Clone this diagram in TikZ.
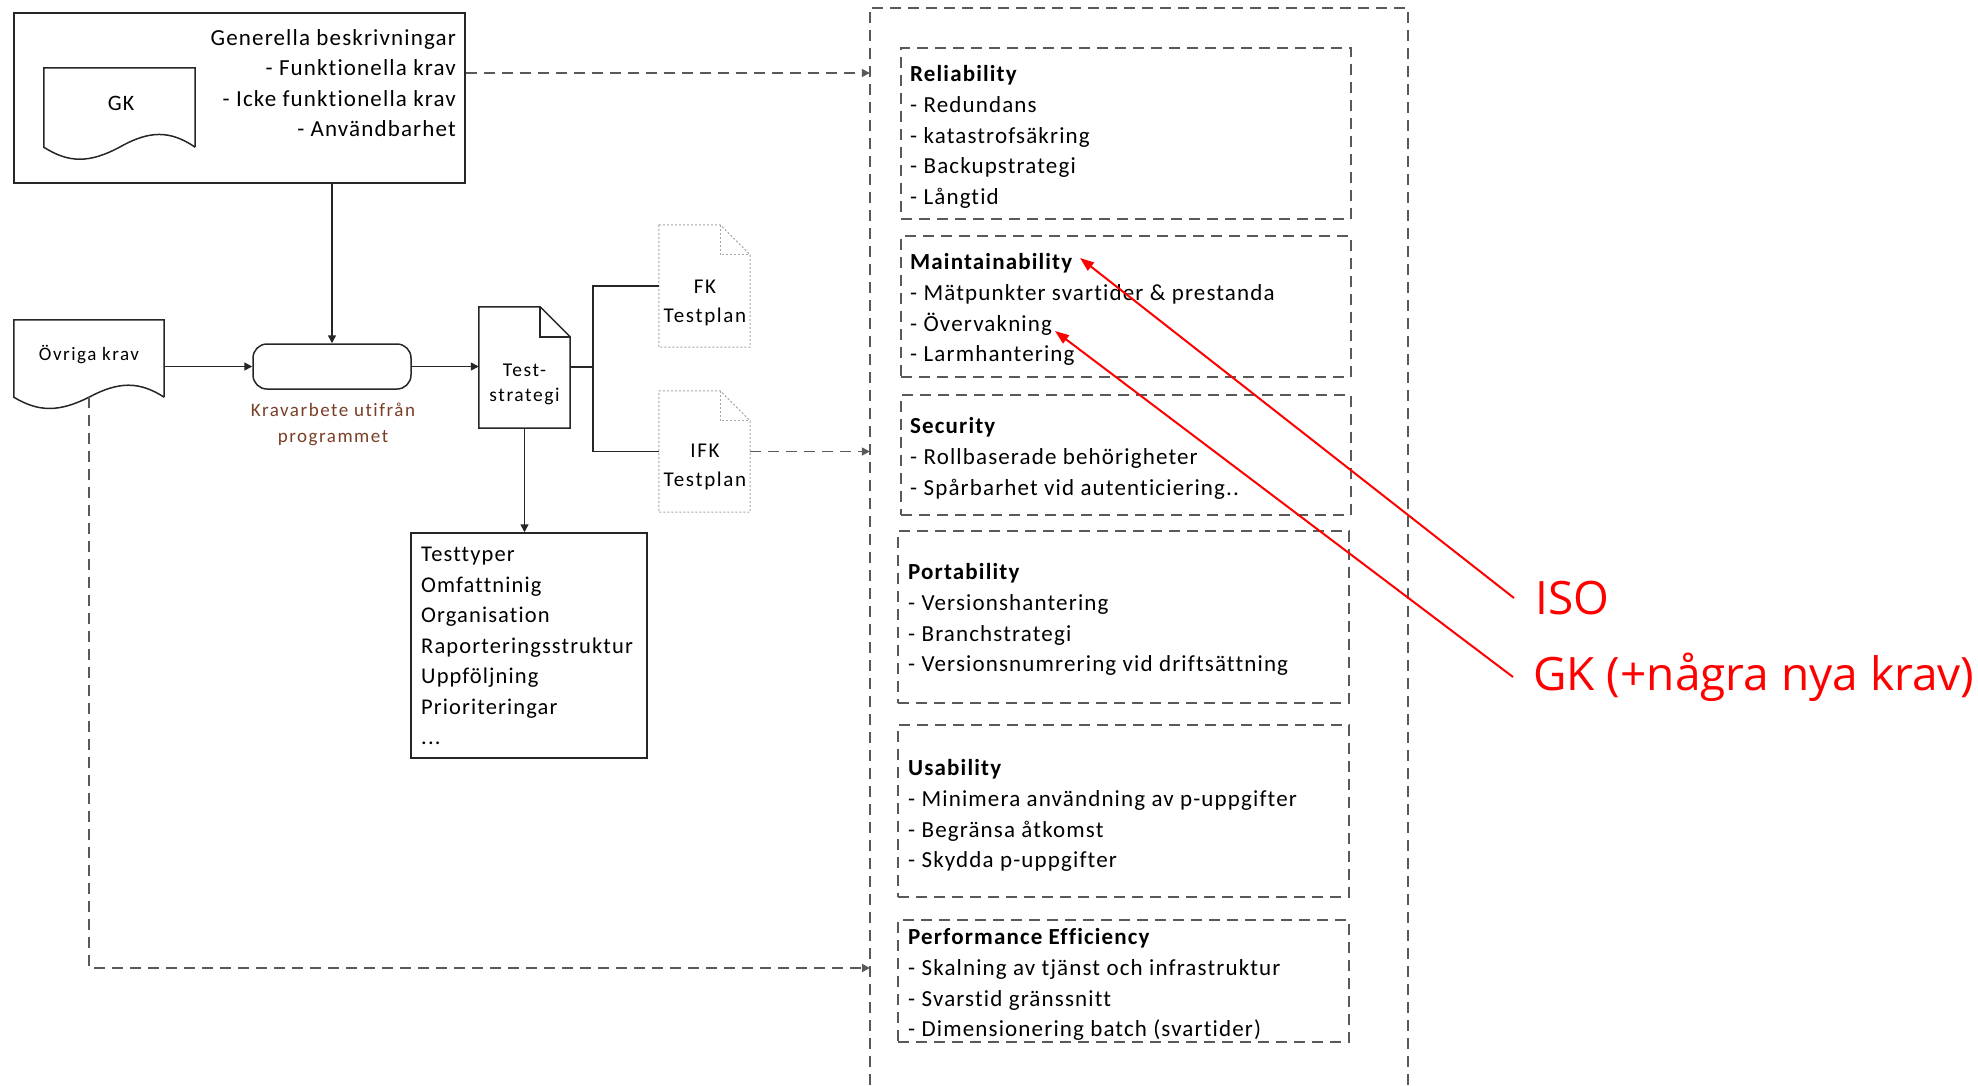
\documentclass[tikz,border=0pt]{standalone}
\usepackage{fontspec}
\setmainfont{Carlito}[LetterSpace=5,Ligatures=NoCommon]
\newfontfamily\smallfont{Carlito}[LetterSpace=8,Ligatures=NoCommon]
\newfontfamily\redfont{Open Sans}
\usetikzlibrary{arrows.meta,calc}
\definecolor{dashgray}{RGB}{89,89,89}
\definecolor{kravcol}{RGB}{122,62,38}
\definecolor{dotgray}{RGB}{165,165,165}
\definecolor{linecol}{RGB}{38,38,38}
\newcommand\fsz[2]{\fontsize{#1}{#2}\selectfont}
\begin{document}
\begin{tikzpicture}[x=1pt,y=-1pt,
  lnk/.style={draw=linecol,line width=1.5pt},
  arr/.style={lnk,-{Triangle[length=8pt,width=8pt]}},
  dsh/.style={draw=dashgray,line width=1.6pt,dash pattern=on 11pt off 7pt},
  darr/.style={dsh,-{Triangle[length=8pt,width=8pt]}},
  redarr/.style={draw=red,line width=2pt,-{Triangle[length=14pt,width=10pt]}},
  boxn/.style={draw=linecol,line width=1.5pt,inner sep=0pt},
  area/.style={inner sep=0pt,draw=none},
  qbox/.style={dsh,inner sep=0pt},
  dotline/.style={draw=dotgray,line width=1pt,dash pattern=on 2pt off 2pt},
  txt/.style={inner sep=0pt,align=left,font=\fsz{23}{30.6}},
  redtxt/.style={inner sep=0pt,anchor=west,text=red,font=\redfont\fsz{46}{55}}
]
\useasboundingbox (0,0) rectangle (1978,1085);

% ---- GK box
\node[boxn,minimum width=451pt,minimum height=170pt] (gkbox) at (239.5,98) {};
\node[area,minimum width=151pt,minimum height=79pt] (gk) at (119.5,107.5) {};
\draw[lnk] (gk.south east) -- (gk.north east) -- (gk.north west) -- (gk.south west)
  .. controls +(25,16) and +(-30,16) .. (gk.south)
  .. controls +(30,-17) and +(-25,-17) .. (gk.south east);
\node[inner sep=0pt,font=\fsz{22}{25}] (gklabel) at (121,103) {GK};
\node[txt,align=right,anchor=north east] (gktxt) at (456,29)
  {Generella beskrivningar\\- Funktionella krav\\- Icke funktionella krav\\- Användbarhet};

% ---- Övriga krav
\node[area,minimum width=150pt,minimum height=77pt] (ov) at (89,358.5) {};
\draw[lnk] (ov.south east) -- (ov.north east) -- (ov.north west) -- (ov.south west)
  .. controls +(25,15) and +(-30,15) .. (ov.south)
  .. controls +(30,-16) and +(-25,-16) .. (ov.south east);
\node[inner sep=0pt,font=\smallfont\fsz{19}{22}] (ovlabel) at (89,355) {Övriga krav};

% ---- Kravarbete
\node[boxn,rounded corners=14pt,minimum width=158pt,minimum height=45pt] (kb) at (332,366.5) {};
\node[inner sep=0pt,font=\smallfont\fsz{19}{26},text=kravcol,align=center] (kblabel) at (333,424)
  {Kravarbete utifrån\\programmet};

% ---- Teststrategi
\node[area,minimum width=91pt,minimum height=121pt] (ts) at (524.5,367.5) {};
\draw[lnk] (ts.north west) -- ([xshift=-30pt]ts.north east) -- ([yshift=-30pt]ts.north east)
  -- (ts.south east) -- (ts.south west) -- cycle;
\draw[lnk] ([xshift=-30pt]ts.north east) -- ([xshift=-30pt,yshift=-30pt]ts.north east) -- ([yshift=-30pt]ts.north east);
\node[inner sep=0pt,font=\smallfont\fsz{19.5}{25},align=center] (tslabel) at (524.5,384) {Test-\\strategi};

% ---- FK / IFK testplan
\node[area,minimum width=91pt,minimum height=122pt] (fk) at (704.5,286) {};
\draw[dotline] (fk.north west) -- ([xshift=-30pt]fk.north east) -- ([yshift=-30pt]fk.north east)
  -- (fk.south east) -- (fk.south west) -- cycle;
\draw[dotline] ([xshift=-30pt]fk.north east) -- ([xshift=-30pt,yshift=-30pt]fk.north east) -- ([yshift=-30pt]fk.north east);
\node[inner sep=0pt,font=\smallfont\fsz{21}{29},align=center] (fklabel) at (705,303) {FK\\Testplan};

\node[area,minimum width=91pt,minimum height=121pt] (ifk) at (704.5,451.5) {};
\draw[dotline] (ifk.north west) -- ([xshift=-30pt]ifk.north east) -- ([yshift=-30pt]ifk.north east)
  -- (ifk.south east) -- (ifk.south west) -- cycle;
\draw[dotline] ([xshift=-30pt]ifk.north east) -- ([xshift=-30pt,yshift=-30pt]ifk.north east) -- ([yshift=-30pt]ifk.north east);
\node[inner sep=0pt,font=\smallfont\fsz{21}{29},align=center] (ifklabel) at (705,467) {IFK\\Testplan};

% ---- Testtyper box
\node[boxn,minimum width=236pt,minimum height=225pt] (tt) at (529,645.5) {};
\node[txt,font=\fsz{22.5}{30.5},anchor=north west] (tttxt) at (421,547)
  {Testtyper\\Omfattninig\\Organisation\\Raporteringsstruktur\\Uppföljning\\Prioriteringar\\...};

% ---- container
\node[area,minimum width=538pt,minimum height=1077pt] (cont) at (1139,546.5) {};
\draw[dsh] (cont.south west) -- (cont.north west) -- (cont.north east) -- (cont.south east);

\node[qbox,minimum width=450pt,minimum height=171pt] (rel) at (1126,133.5) {};
\node[txt,anchor=north west] (reltxt) at (910,65.5)
  {\textbf{Reliability}\\- Redundans\\- katastrofsäkring\\- Backupstrategi\\- Långtid};
\node[qbox,minimum width=450pt,minimum height=141pt] (mai) at (1126,306.5) {};
\node[txt,anchor=north west] (maitxt) at (910,253.5)
  {\textbf{Maintainability}\\- Mätpunkter svartider \& prestanda\\- Övervakning\\- Larmhantering};
\node[qbox,minimum width=450pt,minimum height=120pt] (sec) at (1126,455) {};
\node[txt,anchor=north west] (sectxt) at (910,417.5)
  {\textbf{Security}\\- Rollbaserade behörigheter\\- Spårbarhet vid autenticiering..};
\node[qbox,minimum width=451pt,minimum height=172pt] (por) at (1123.5,617) {};
\node[txt,anchor=north west] (portxt) at (908,563.5)
  {\textbf{Portability}\\- Versionshantering\\- Branchstrategi\\- Versionsnumrering vid driftsättning};
\node[qbox,minimum width=451pt,minimum height=172pt] (usa) at (1123.5,811) {};
\node[txt,anchor=north west] (usatxt) at (908,759.5)
  {\textbf{Usability}\\- Minimera användning av p-uppgifter\\- Begränsa åtkomst\\- Skydda p-uppgifter};
\node[qbox,minimum width=451pt,minimum height=122pt] (per) at (1123.5,981) {};
\node[txt,anchor=north west] (pertxt) at (908,928.5)
  {\textbf{Performance Efficiency}\\- Skalning av tjänst och infrastruktur\\- Svarstid gränssnitt\\- Dimensionering batch (svartider)};

% ---- connectors
\draw[arr] (gkbox.south -| kb.north) -- (kb.north);
\draw[arr] (ov.east |- kb.west) -- (kb.west);
\draw[arr] (kb.east) -- (ts.west |- kb.east);
\coordinate (br) at (593,367);
\draw[lnk] (ts.east |- br) -- (br);
\draw[lnk] (fk.west) -| (br) |- (ifk.west);
\draw[arr] (ts.south) -- (ts.south |- tt.north);
\coordinate (gkout) at ([yshift=25pt]gkbox.east);
\draw[darr] (gkout) -- (gkout -| cont.west);
\draw[darr] (ifk.east) -- (ifk.east -| cont.west);
\coordinate (pein) at (870,968);
\draw[darr] (ov.south) |- (pein);

% ---- red annotations
\node[redtxt] (iso) at (1535,598) {ISO};
\node[redtxt] (gknew) at (1533,677) {GK (+några nya krav)};
\coordinate (isotip) at (1080,258);
\coordinate (gktip) at (1055,331);
\draw[redarr] ([xshift=-21pt]iso.west) -- (isotip);
\draw[redarr] ([xshift=-20pt]gknew.west) -- (gktip);
\end{tikzpicture}
\end{document}
